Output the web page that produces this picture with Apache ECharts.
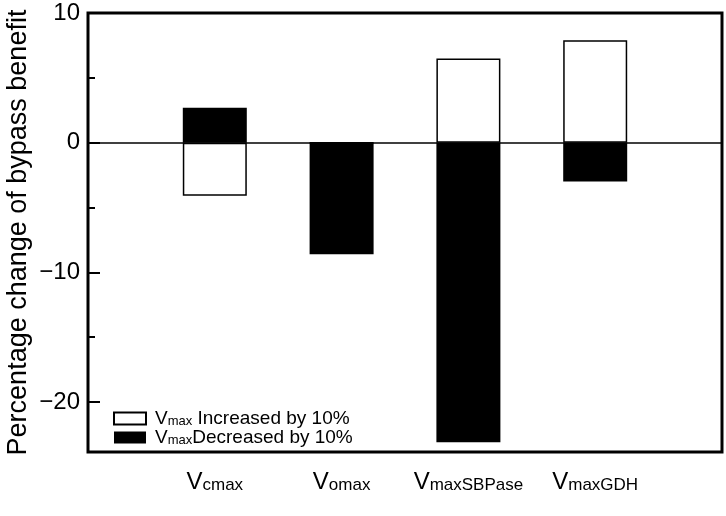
<!DOCTYPE html>
<html>
<head>
<meta charset="utf-8">
<script src="https://cdn.jsdelivr.net/npm/echarts@6/dist/echarts.min.js"></script>
<style>html,body{margin:0;padding:0;background:#fff}#c{width:726px;height:516px}</style>
</head>
<body>
<div id="c"></div>
<script>
var categories = ['cmax', 'omax', 'maxSBPase', 'maxGDH'];
var increased = [-4.1, 0, 6.5, 7.9];
var decreased = [2.7, -8.6, -23.1, -3.0];
var seriesNames = ['Vmax Increased by 10%', 'Vmax Decreased by 10%'];
var legendTexts = [' Increased by 10%', 'Decreased by 10%'];
var majorTicks = [-20, -10, 0, 10];
var minorTicks = [-15, -5, 5];

var chart = echarts.init(document.getElementById('c'), null, {renderer: 'canvas'});
function toData(arr) { return arr.map(function (v, i) { return [i + 1, v]; }); }
var font = 'Liberation Sans, Arial, sans-serif';
var yBase = {
  type: 'value', min: -23.85, max: 10,
  splitLine: {show: false}, axisLine: {show: false}
};
chart.setOption({
  animation: false,
  grid: {left: 88, right: 4, top: 13, bottom: 64, outerBoundsMode: 'none', containLabel: false,
    show: true, borderColor: '#000', borderWidth: 3, backgroundColor: 'transparent'},
  legend: {
    orient: 'vertical', left: 113, top: 409, padding: 0, itemWidth: 32, itemHeight: 12, itemGap: 0,
    icon: 'rect',
    data: seriesNames,
    formatter: function (n) {
      var i = seriesNames.indexOf(n);
      return '{v|V}{s|max}{t|' + legendTexts[i] + '}';
    },
    textStyle: {
      fontFamily: font, color: '#000', padding: [0, 0, 0, 4],
      rich: {
        v: {fontSize: 19, fontFamily: font, color: '#000', lineHeight: 19, verticalAlign: 'bottom'},
        s: {fontSize: 13, fontFamily: font, color: '#000', lineHeight: 8, verticalAlign: 'bottom'},
        t: {fontSize: 19, fontFamily: font, color: '#000', lineHeight: 19, verticalAlign: 'bottom'}
      }
    }
  },
  xAxis: {
    type: 'value', min: 0, max: 5, interval: 1,
    splitLine: {show: false}, axisLine: {show: false}, axisTick: {show: false},
    axisLabel: {
      margin: 18,
      formatter: function (v) {
        var c = categories[v - 1];
        return c ? '{v|V}{s|' + c + '}' : '';
      },
      rich: {
        v: {fontSize: 24, fontFamily: font, color: '#000', lineHeight: 24, verticalAlign: 'bottom'},
        s: {fontSize: 17, fontFamily: font, color: '#000', lineHeight: 10, verticalAlign: 'bottom'}
      }
    }
  },
  yAxis: [
    Object.assign({}, yBase, {
      name: 'Percentage change of bypass benefit', nameLocation: 'middle', nameGap: 56,
      nameMoveOverlap: false,
      nameTextStyle: {fontSize: 27, fontFamily: font, color: '#000'},
      axisTick: {show: true, inside: true, length: 12, lineStyle: {color: '#000', width: 2}, customValues: majorTicks},
      axisLabel: {fontSize: 24, fontFamily: font, color: '#000', margin: 8, customValues: majorTicks,
        formatter: function (v) { return String(v).replace('-', '\u2212'); }}
    }),
    Object.assign({}, yBase, {
      position: 'left',
      axisTick: {show: true, inside: true, length: 7, lineStyle: {color: '#000', width: 2}, customValues: minorTicks},
      axisLabel: {show: false}
    })
  ],
  series: [
    {
      name: seriesNames[0], type: 'bar', barWidth: 64, barGap: '-100%', z: 2,
      data: toData(increased),
      itemStyle: {color: '#fff', borderColor: '#000', borderWidth: 1.5},
      markLine: {silent: true, symbol: 'none', label: {show: false},
        lineStyle: {color: '#000', width: 1.5, type: 'solid'}, data: [{yAxis: 0}]}
    },
    {
      name: seriesNames[1], type: 'bar', barWidth: 64, barGap: '-100%', z: 3,
      data: toData(decreased),
      itemStyle: {color: '#000', borderColor: '#000', borderWidth: 0}
    }
  ]
});
</script>
</body>
</html>
